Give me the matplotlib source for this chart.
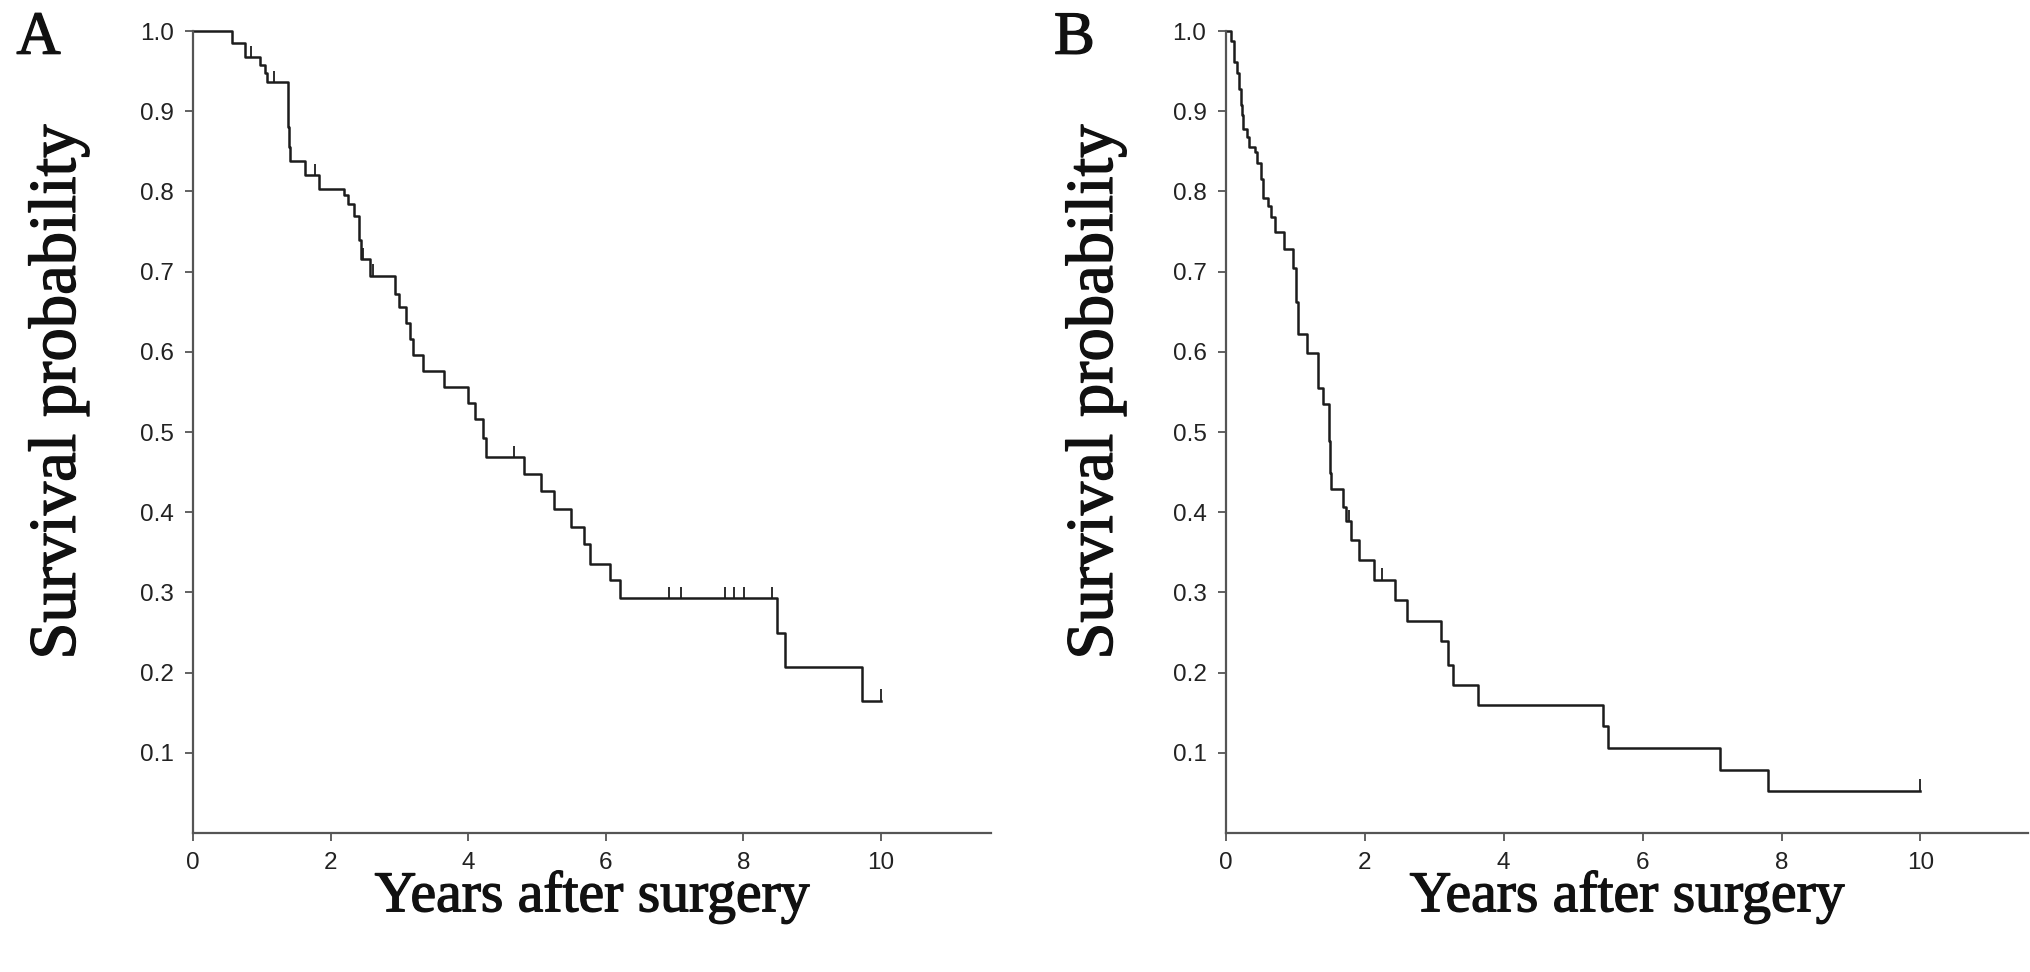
import numpy as np
import matplotlib
matplotlib.use("Agg")
import matplotlib.pyplot as plt
import matplotlib.patheffects as pe

# Kaplan-Meier curve A (years, survival after step)
a_times = [0, 0.57, 0.75, 0.97, 1.04, 1.07, 1.38, 1.40, 1.41, 1.63, 1.83,
           2.19, 2.25, 2.34, 2.41, 2.44, 2.57, 2.94, 3.00, 3.10, 3.15, 3.20, 3.34,
           3.65, 4.00, 4.10, 4.22, 4.26, 4.81, 5.06, 5.24, 5.50, 5.69, 5.77, 6.06, 6.21,
           8.49, 8.61, 9.72]
a_surv = [1.0, 0.985, 0.968, 0.958, 0.948, 0.936, 0.88, 0.855, 0.838, 0.820, 0.803,
          0.795, 0.785, 0.769, 0.74, 0.716, 0.695, 0.672, 0.656, 0.636, 0.616, 0.596, 0.576,
          0.556, 0.536, 0.516, 0.493, 0.469, 0.448, 0.426, 0.404, 0.382, 0.360, 0.336, 0.315, 0.293,
          0.250, 0.207, 0.165]
a_censor = [0.85, 1.18, 1.78, 2.47, 2.62, 4.66, 6.92, 7.10, 7.73, 7.86, 8.01, 8.41, 10.0]
a_end = 10.0

# Kaplan-Meier curve B
b_times = [0, 0.08, 0.12, 0.153, 0.187, 0.213, 0.233, 0.253, 0.30, 0.333,
           0.413, 0.453, 0.50, 0.533, 0.613, 0.653, 0.70, 0.833, 0.967, 1.013,
           1.033, 1.167, 1.333, 1.40, 1.48, 1.50, 1.52, 1.68, 1.733, 1.80,
           1.92, 2.133, 2.433, 2.60, 3.10, 3.20, 3.267, 3.633, 5.433, 5.50,
           7.12, 7.80]
b_surv = [1.0, 0.988, 0.961, 0.948, 0.928, 0.908, 0.895, 0.878, 0.868, 0.855,
          0.849, 0.835, 0.815, 0.792, 0.782, 0.768, 0.750, 0.728, 0.705, 0.662,
          0.622, 0.599, 0.555, 0.535, 0.489, 0.449, 0.429, 0.407, 0.389, 0.366,
          0.341, 0.316, 0.290, 0.264, 0.239, 0.210, 0.184, 0.160, 0.133, 0.106,
          0.079, 0.053]
b_censor = [1.77, 2.25, 10.0]
b_end = 10.0

y_ticks = [0.1, 0.2, 0.3, 0.4, 0.5, 0.6, 0.7, 0.8, 0.9, 1.0]
x_ticks = [0, 2, 4, 6, 8, 10]

serif = "Liberation Serif"
sans = "Liberation Sans"
line_col = "#1c1c1c"
axis_col = "#555555"
thick = [pe.withStroke(linewidth=1.0, foreground="#111111")]

fig = plt.figure(figsize=(20.31, 9.72), dpi=100)
ax_a = fig.add_axes([0.095, 0.143, 0.393, 0.825])
ax_b = fig.add_axes([0.6036, 0.143, 0.395, 0.825])


def km_panel(ax, times, surv, censor, end, xmax, letter, letter_x, ylab_x):
    t = list(times) + [end]
    s = list(surv) + [surv[-1]]
    ax.step(t, s, where="post", color=line_col, lw=1.8, clip_on=False)
    # censor marks
    idx = np.searchsorted(times, censor, side="right") - 1
    lev = np.array(surv)[idx]
    ax.vlines(censor, lev, lev + 0.014, color=line_col, lw=1.3, clip_on=False)

    ax.set_xlim(0, xmax)
    ax.set_ylim(0, 1.0)
    for sp in ["top", "right"]:
        ax.spines[sp].set_visible(False)
    for sp in ["left", "bottom"]:
        ax.spines[sp].set_color(axis_col)
        ax.spines[sp].set_linewidth(1.6)
    ax.set_yticks(y_ticks)
    ax.set_yticklabels(["%.1f" % v for v in y_ticks])
    ax.set_xticks(x_ticks)
    ax.tick_params(direction="out", length=6, width=1.3, color=axis_col,
                   labelsize=17.5, pad=8, labelcolor="#222222")
    for lb in ax.get_xticklabels() + ax.get_yticklabels():
        lb.set_fontfamily(sans)

    ax.text(0.5, -0.08, "Years after surgery", transform=ax.transAxes,
            ha="center", va="center", fontsize=41.5, family=serif,
            color="#111111", path_effects=thick)
    ax.text(ylab_x, 0.55, "Survival probability", transform=ax.transAxes,
            ha="center", va="center", rotation=90, fontsize=48, family=serif,
            color="#111111", path_effects=thick)
    fig.text(letter_x, 0.96, letter, ha="center", va="center", fontsize=44,
             family=serif, color="#111111", path_effects=thick)


km_panel(ax_a, a_times, a_surv, a_censor, a_end, 11.6, "A", 0.019, -0.169)
km_panel(ax_b, b_times, b_surv, b_censor, b_end, 11.55, "B", 0.529, -0.163)

fig.savefig("out.png", dpi=100, facecolor="white")
